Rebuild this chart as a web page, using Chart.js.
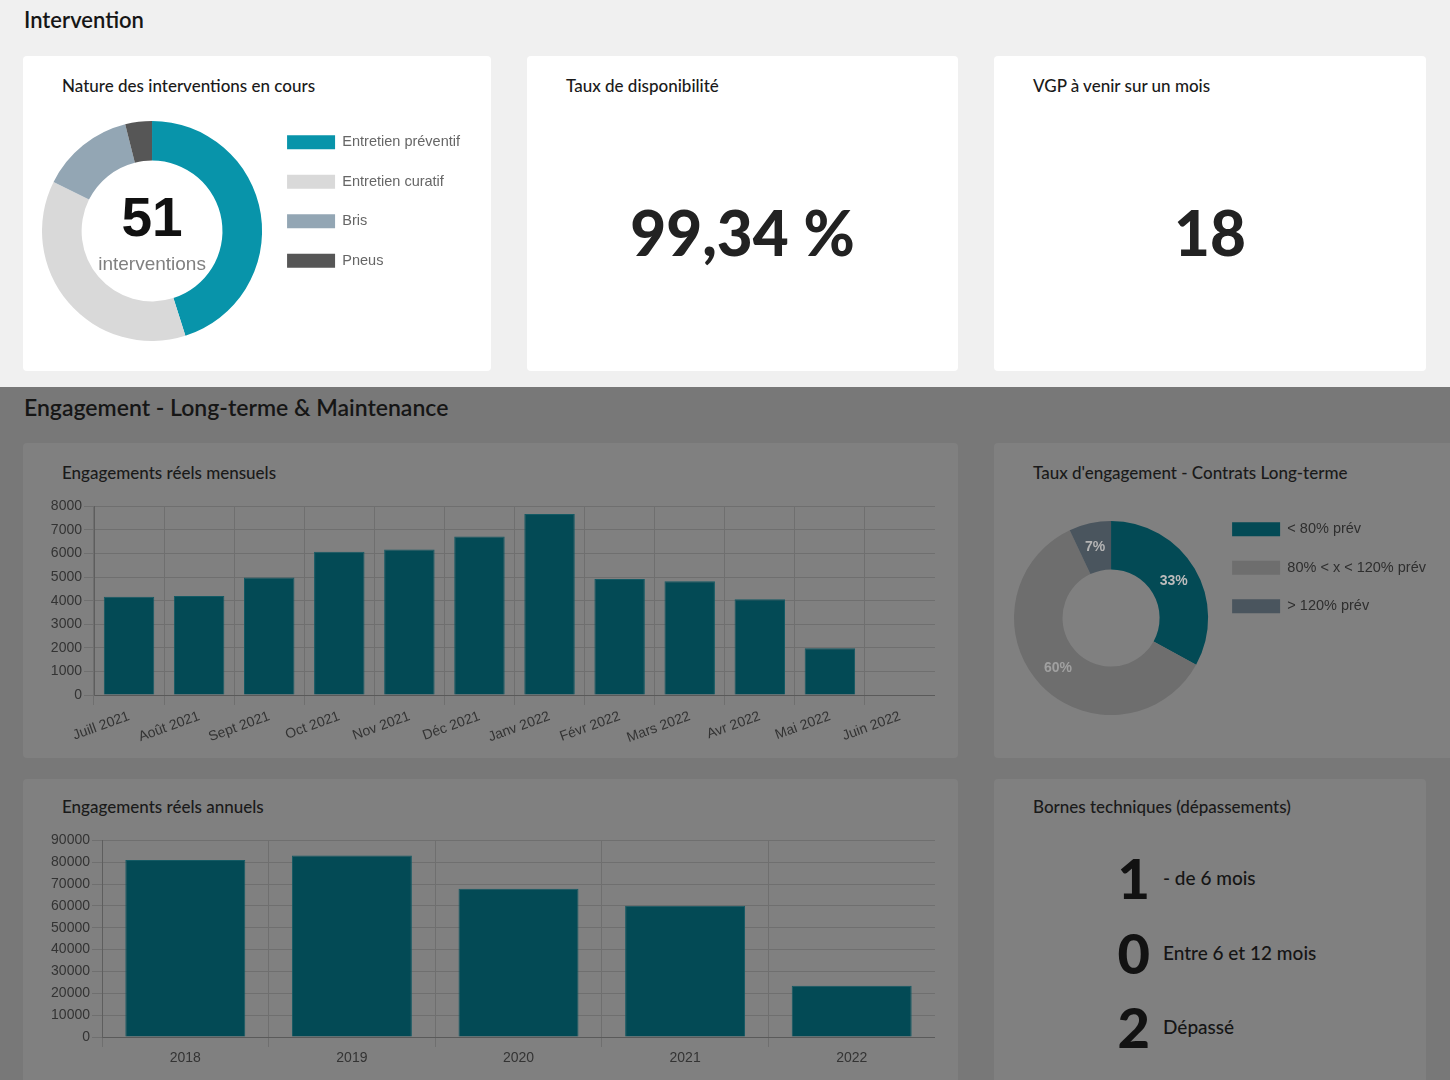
<!DOCTYPE html>
<html lang="fr">
<head>
<meta charset="utf-8">
<title>Intervention</title>
<script src="https://cdn.jsdelivr.net/npm/chart.js@4.4.0/dist/chart.umd.min.js"></script>
<style>
  html, body { margin: 0; padding: 0; }
  body {
    width: 1450px; height: 1080px; overflow: hidden; position: relative;
    background: #f0f0f0; color: #1a1a1a;
    font-family: Lato, "Noto Sans", sans-serif;
  }
  .abs { position: absolute; }
  .low { left: 0; top: 387px; width: 1450px; height: 693px; background: #787878; }
  .card { background: #fff; border-radius: 4px; }
  .low-card { background: #808080; border-radius: 4px; }
  .h1 { font-size: 22px; line-height: 28px; font-weight: 600; color: #161616; white-space: nowrap; }
  .title { font-size: 17px; line-height: 20px; font-weight: 500; white-space: nowrap; }
  .big { font-size: 62px; line-height: 62px; font-weight: 900; color: #222; text-align: center; }
  .borne-num { width: 50px; text-align: right; font-size: 56px; line-height: 56px; font-weight: 900; color: #121212; }
  .borne-txt { font-size: 19px; line-height: 24px; font-weight: 500; color: #151515; white-space: nowrap; }
  canvas { position: absolute; }
</style>
</head>
<body>

<div class="abs h1" style="left:24px; top:6px;">Intervention</div>

<div class="abs card" style="left:23px; top:56px; width:468px; height:315px;"></div>
<div class="abs card" style="left:527px; top:56px; width:431px; height:315px;"></div>
<div class="abs card" style="left:994px; top:56px; width:432px; height:315px;"></div>

<div class="abs title" style="left:62px; top:76px;">Nature des interventions en cours</div>
<div class="abs title" style="left:566px; top:76px;">Taux de disponibilité</div>
<div class="abs title" style="left:1033px; top:76px;">VGP à venir sur un mois</div>

<div class="abs big" style="left:527px; top:201px; width:431px;">99,34 %</div>
<div class="abs big" style="left:994px; top:201px; width:432px;">18</div>

<canvas id="natureChart" style="left:42px; top:110px;"></canvas>

<div class="abs low"></div>
<div class="abs h1" style="left:24px; top:393px; font-size:23px;">Engagement - Long-terme &amp; Maintenance</div>

<div class="abs low-card" style="left:23px; top:443px; width:935px; height:315px;"></div>
<div class="abs low-card" style="left:994px; top:443px; width:470px; height:315px;"></div>
<div class="abs low-card" style="left:23px; top:779px; width:935px; height:320px;"></div>
<div class="abs low-card" style="left:994px; top:779px; width:432px; height:320px;"></div>

<div class="abs title" style="left:62px; top:463px;">Engagements réels mensuels</div>
<div class="abs title" style="left:1033px; top:463px;">Taux d'engagement - Contrats Long-terme</div>
<div class="abs title" style="left:62px; top:797px;">Engagements réels annuels</div>
<div class="abs title" style="left:1033px; top:797px;">Bornes techniques (dépassements)</div>

<canvas id="mensuelChart" style="left:40px; top:496px;" width="895" height="249"></canvas>
<canvas id="tauxChart" style="left:1014px; top:498px;"></canvas>
<canvas id="annuelChart" style="left:40px; top:830px;" width="895" height="237"></canvas>

<div class="abs borne-num" style="left:1100px; top:850px;">1</div>
<div class="abs borne-txt" style="left:1163px; top:866px;">- de 6 mois</div>
<div class="abs borne-num" style="left:1100px; top:925px;">0</div>
<div class="abs borne-txt" style="left:1163px; top:941px;">Entre 6 et 12 mois</div>
<div class="abs borne-num" style="left:1100px; top:999px;">2</div>
<div class="abs borne-txt" style="left:1163px; top:1015px;">Dépassé</div>

<script>
// donnees
const natureLabels = ["Entretien préventif", "Entretien curatif", "Bris", "Pneus"];
const natureValues = [23, 19, 7, 2];
const natureColors = ["#0894aa", "#d9d9d9", "#93a6b4", "#565656"];

const tauxLabels = ["< 80% prév", "80% < x < 120% prév", "> 120% prév"];
const tauxValues = [33, 60, 7];
const tauxColors = ["#034a55", "#6e6e6e", "#4a555e"];

const months = ["Juill 2021", "Août 2021", "Sept 2021", "Oct 2021", "Nov 2021", "Déc 2021",
  "Janv 2022", "Févr 2022", "Mars 2022", "Avr 2022", "Mai 2022", "Juin 2022"];
const monthlyValues = [4170, 4200, 4980, 6080, 6170, 6720, 7680, 4920, 4830, 4060, 1980, 0];

const years = ["2018", "2019", "2020", "2021", "2022"];
const yearlyValues = [81000, 83100, 67900, 60100, 23500];

const FONT = "'Liberation Sans', Arial, Helvetica, sans-serif";
const LEGEND_SIZE = 14.5;
Chart.defaults.font.family = FONT;
Chart.defaults.font.size = 14;
Chart.defaults.animation = false;
Chart.defaults.plugins.tooltip.enabled = false;

// width of a right legend, so the doughnut keeps its own area
function legendWidth(labels, pad) {
  const ctx = document.createElement("canvas").getContext("2d");
  ctx.font = LEGEND_SIZE + "px " + FONT;
  const w = Math.max(...labels.map(t => ctx.measureText(t).width));
  return pad + 48 + LEGEND_SIZE / 2 + w + 10;
}

// doughnut 1
const natureCanvas = document.getElementById("natureChart");
natureCanvas.width = Math.ceil(220 + legendWidth(natureLabels, 25));
natureCanvas.height = 242;

const centerText = {
  id: "centerText",
  afterDraw(chart) {
    const { ctx, chartArea } = chart;
    const cx = (chartArea.left + chartArea.right) / 2;
    const cy = (chartArea.top + chartArea.bottom) / 2;
    const total = natureValues.reduce((a, b) => a + b, 0);
    ctx.save();
    ctx.textAlign = "center";
    ctx.textBaseline = "middle";
    ctx.fillStyle = "#111";
    ctx.font = "bold 55px " + FONT;
    ctx.fillText(String(total), cx, cy - 10);
    ctx.fillStyle = "#808080";
    ctx.font = "19px " + FONT;
    ctx.fillText("interventions", cx, cy + 34);
    ctx.restore();
  }
};

new Chart(natureCanvas, {
  type: "doughnut",
  data: {
    labels: natureLabels,
    datasets: [{
      data: natureValues,
      backgroundColor: natureColors,
      borderWidth: 0,
      hoverOffset: 0,
      hoverBorderWidth: 0
    }]
  },
  options: {
    responsive: false,
    cutout: "64%",
    plugins: {
      legend: {
        position: "right",
        align: "start",
        maxWidth: 400,
        labels: { boxWidth: 48, boxHeight: 14, padding: 25, color: "#666", font: { size: LEGEND_SIZE } }
      }
    }
  },
  plugins: [centerText]
});

// doughnut 2
const tauxCanvas = document.getElementById("tauxChart");
tauxCanvas.width = Math.ceil(194 + legendWidth(tauxLabels, 24));
tauxCanvas.height = 240;

const labelColors = ["#bcbcbc", "#a0a0a0", "#b4b4b4"];
const pctLabels = {
  id: "pctLabels",
  afterDatasetsDraw(chart) {
    const { ctx } = chart;
    const meta = chart.getDatasetMeta(0);
    ctx.save();
    ctx.font = "bold 14px " + FONT;
    ctx.textAlign = "center";
    ctx.textBaseline = "middle";
    meta.data.forEach((arc, i) => {
      const p = arc.tooltipPosition();
      ctx.fillStyle = labelColors[i];
      ctx.fillText(tauxValues[i] + "%", p.x, p.y);
    });
    ctx.restore();
  }
};

new Chart(tauxCanvas, {
  type: "doughnut",
  data: {
    labels: tauxLabels,
    datasets: [{
      data: tauxValues,
      backgroundColor: tauxColors,
      borderWidth: 0,
      hoverOffset: 0,
      hoverBorderWidth: 0
    }]
  },
  options: {
    responsive: false,
    cutout: "50%",
    plugins: {
      legend: {
        position: "right",
        align: "start",
        maxWidth: 400,
        labels: { boxWidth: 48, boxHeight: 14, padding: 24, color: "#2e2e2e", font: { size: LEGEND_SIZE } }
      }
    }
  },
  plugins: [pctLabels]
});

// bar charts
function barOptions(yMax, yStep, yWidth, xHeight, rotation) {
  return {
    responsive: false,
    layout: { padding: { top: 2, right: 0, left: 0, bottom: 0 } },
    plugins: { legend: { display: false } },
    scales: {
      x: {
        afterFit: s => { s.height = xHeight; },
        grid: { color: "#6f6f6f", tickLength: 10, offset: true },
        border: { color: "#5a5a5a" },
        ticks: { color: "#333", padding: 3, autoSkip: false, minRotation: rotation, maxRotation: rotation }
      },
      y: {
        min: 0, max: yMax,
        afterFit: s => { s.width = yWidth; },
        grid: { color: "#6f6f6f", tickLength: 10 },
        border: { color: "#5e5e5e" },
        ticks: { color: "#333", padding: 2, stepSize: yStep, callback: v => String(v) }
      }
    }
  };
}

new Chart(document.getElementById("mensuelChart"), {
  type: "bar",
  data: {
    labels: months,
    datasets: [{
      data: monthlyValues,
      backgroundColor: "#034a55",
      borderColor: "#145a64",
      borderWidth: 1
    }]
  },
  options: barOptions(8000, 1000, 54, 50, 20)
});

new Chart(document.getElementById("annuelChart"), {
  type: "bar",
  data: {
    labels: years,
    datasets: [{
      data: yearlyValues,
      backgroundColor: "#034a55",
      borderColor: "#145a64",
      borderWidth: 1
    }]
  },
  options: barOptions(90000, 10000, 62, 30, 0)
});
</script>
</body>
</html>
